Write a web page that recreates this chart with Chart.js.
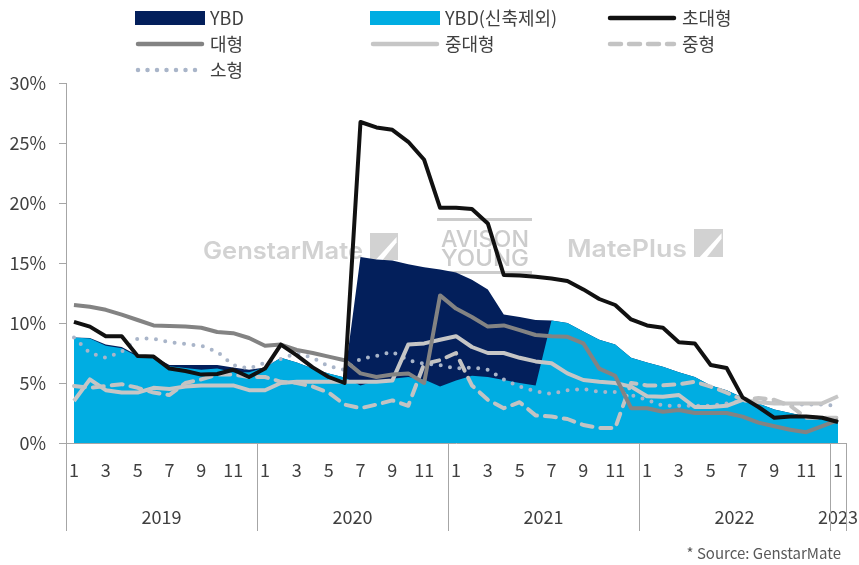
<!DOCTYPE html>
<html>
<head>
<meta charset="utf-8">
<script src="https://cdn.jsdelivr.net/npm/chart.js@4.4.0/dist/chart.umd.min.js"></script>
<style>
  html, body { margin: 0; padding: 0; background: #fff; }
  #wrap { position: relative; width: 859px; height: 565px; }
</style>
</head>
<body>
<div id="wrap"><canvas id="vacancyChart"></canvas></div>
<script>
// 월별 공실률 (%), 2019.1 ~ 2023.1
var months = ['1','2','3','4','5','6','7','8','9','10','11','12',
              '1','2','3','4','5','6','7','8','9','10','11','12',
              '1','2','3','4','5','6','7','8','9','10','11','12',
              '1','2','3','4','5','6','7','8','9','10','11','12',
              '1'];
var years = ['2019', '2020', '2021', '2022', '2023'];
var seriesNames = ['YBD', 'YBD(신축제외)', '초대형', '대형', '중대형', '중형', '소형'];

var ybd = [8.8, 8.75, 8.2, 8.0, 7.3, 7.2, 6.5, 6.5, 6.5, 6.5, 6.3, 6.1,
           6.3, 7.1, 6.7, 6.2, 5.8, 5.45, 15.5, 15.3, 15.2, 14.9, 14.65, 14.45,
           14.2, 13.6, 12.8, 10.7, 10.5, 10.25, 10.2, 10.0, 9.3, 8.6, 8.2, 7.1,
           6.7, 6.35, 5.9, 5.5, 4.8, 4.4, 3.8, 3.3, 2.8, 2.5, 2.2, 2.1,
           1.8];
var ybdExNew = [8.8, 8.7, 8.1, 7.9, 7.2, 7.1, 6.4, 6.25, 6.1, 6.2, 5.9, 5.9,
                6.3, 7.1, 6.7, 6.2, 5.8, 5.45, 4.8, 5.2, 5.35, 5.5, 5.3, 4.7,
                5.2, 5.6, 5.5, 5.25, 5.0, 4.8, 10.2, 10.0, 9.3, 8.6, 8.2, 7.1,
                6.7, 6.35, 5.9, 5.5, 4.8, 4.4, 3.8, 3.3, 2.8, 2.5, 2.2, 2.1,
                1.8];
var prime = [10.1, 9.7, 8.9, 8.9, 7.25, 7.2, 6.2, 6.0, 5.7, 5.75, 6.1, 5.5,
             6.2, 8.2, 7.3, 6.3, 5.5, 5.0, 26.75, 26.3, 26.1, 25.1, 23.6, 19.6,
             19.6, 19.5, 18.3, 14.0, 13.95, 13.85, 13.7, 13.5, 12.8, 12.0, 11.5, 10.3,
             9.8, 9.6, 8.4, 8.3, 6.5, 6.25, 3.8, 3.0, 2.1, 2.2, 2.2, 2.1,
             1.75];
var large = [11.5, 11.35, 11.1, 10.7, 10.25, 9.8, 9.75, 9.7, 9.6, 9.25, 9.15, 8.75,
             8.1, 8.2, 7.75, 7.5, 7.2, 6.9, 5.8, 5.5, 5.7, 5.8, 5.0, 12.3,
             11.2, 10.5, 9.7, 9.8, 9.4, 9.0, 8.9, 8.85, 8.3, 6.2, 5.6, 2.9,
             2.9, 2.6, 2.75, 2.5, 2.5, 2.5, 2.2, 1.7, 1.4, 1.1, 0.9, 1.4,
             1.9];
var midLarge = [3.5, 5.3, 4.4, 4.2, 4.2, 4.6, 4.5, 4.7, 4.8, 4.8, 4.8, 4.4,
                4.4, 5.0, 5.1, 5.1, 5.1, 5.1, 5.1, 5.1, 5.2, 8.2, 8.3, 8.6,
                8.9, 8.0, 7.5, 7.5, 7.1, 6.8, 6.65, 5.8, 5.25, 5.1, 5.0, 4.7,
                3.9, 3.85, 4.0, 3.0, 3.0, 3.1, 3.6, 3.4, 3.3, 3.3, 3.3, 3.3,
                3.9];
var mid = [4.75, 4.6, 4.75, 4.9, 4.6, 4.2, 4.0, 5.0, 5.3, 5.7, 5.7, 5.5,
           5.5, 5.1, 5.0, 4.7, 4.2, 3.2, 2.9, 3.2, 3.55, 3.1, 6.6, 6.9,
           7.5, 4.8, 3.6, 2.9, 3.4, 2.3, 2.2, 2.0, 1.5, 1.25, 1.25, 5.0,
           4.8, 4.8, 4.9, 5.1, 4.7, 4.2, 3.6, 3.75, 3.6, 3.1, 2.1, 2.1,
           2.1];
var small = [8.8, 7.5, 7.1, 7.6, 8.7, 8.7, 8.4, 8.25, 8.1, 7.6, 6.5, 6.2,
             6.7, 7.0, 7.5, 7.1, 6.4, 6.1, 7.0, 7.25, 7.6, 6.9, 6.6, 6.5,
             6.2, 6.3, 6.1, 5.3, 4.7, 4.3, 4.1, 4.4, 4.5, 4.25, 4.25, 4.0,
             3.6, 3.1, 3.1, 3.1, 3.1, 3.3, 3.5, 3.6, 3.4, 3.2, 3.2, 3.2,
             3.1];

var FONT = "'Noto Sans CJK KR', 'Noto Sans', sans-serif";
var TEXT = '#404040';
var AXIS = '#a6a6a6';

function areaSet(label, data, color, order) {
    return {
        label: label, data: data, order: order,
        backgroundColor: color, borderColor: color,
        borderWidth: 0, pointRadius: 0, fill: 'origin', tension: 0
    };
}

function lineSet(label, data, color, width, dash, cap, order) {
    return {
        label: label, data: data, order: order,
        borderColor: color, backgroundColor: color,
        borderWidth: width, borderDash: dash, borderCapStyle: cap,
        borderJoinStyle: 'round',
        pointRadius: 0, fill: false, tension: 0
    };
}

// 연도 라벨은 해당 연도 월들의 가운데에 둔다
var yearCenters = years.map(function (y, k) {
    var first = -1, last = -1, count = 0;
    for (var i = 0; i < months.length; i++) {
        if (months[i] === '1') count++;
        if (count === k + 1) { if (first < 0) first = i; last = i; }
    }
    return (first + last) / 2;
});

var legendPlugin = {
    id: 'customLegend',
    afterDraw: function (chart) {
        var ctx = chart.ctx;
        var colX = [135, 370, 607];
        var rowY = [18, 44, 70];
        ctx.save();
        seriesNames.forEach(function (name, k) {
            var ds = chart.data.datasets.find(function (d) { return d.label === name; });
            var x = colX[k % 3], y = rowY[Math.floor(k / 3)];
            if (ds.fill) {
                ctx.fillStyle = ds.backgroundColor;
                ctx.fillRect(x, y - 7, 70, 14);
            } else {
                ctx.strokeStyle = ds.borderColor;
                ctx.lineWidth = ds.borderWidth + 0.5;
                ctx.lineCap = 'round';
                ctx.setLineDash(ds.borderDash || []);
                ctx.beginPath();
                ctx.moveTo(x + 3, y);
                ctx.lineTo(x + 67, y);
                ctx.stroke();
                ctx.setLineDash([]);
            }
            ctx.fillStyle = TEXT;
            ctx.font = '18px ' + FONT;
            ctx.textBaseline = 'middle';
            ctx.textAlign = 'left';
            ctx.fillText(name, x + 75, y);
        });

        // 출처
        ctx.font = '15px ' + FONT;
        ctx.fillStyle = '#595959';
        ctx.textAlign = 'right';
        ctx.fillText('* Source: GenstarMate', 841, 553);
        ctx.restore();
    }
};

function fitText(ctx, text, x, base, width, font) {
    ctx.font = font;
    var w = ctx.measureText(text).width;
    ctx.save();
    ctx.translate(x, base);
    ctx.scale(width / w, 1);
    ctx.fillText(text, 0, 0);
    ctx.restore();
}

function logoBox(ctx, x, y, w, h) {
    ctx.fillStyle = '#d2d2d2';
    ctx.fillRect(x, y, w, h);
    ctx.fillStyle = '#ffffff';
    ctx.beginPath();
    ctx.moveTo(x + w * 0.2, y + h);
    ctx.lineTo(x + w * 0.95, y + h * 0.15);
    ctx.lineTo(x + w * 0.95, y + h * 0.35);
    ctx.lineTo(x + w * 0.45, y + h);
    ctx.closePath();
    ctx.fill();
}

var watermarkPlugin = {
    id: 'watermarks',
    beforeDatasetsDraw: function (chart) {
        var ctx = chart.ctx;
        ctx.save();
        ctx.fillStyle = '#d2d2d2';
        ctx.textBaseline = 'alphabetic';
        ctx.textAlign = 'left';
        fitText(ctx, 'GenstarMate', 203, 259, 160, '600 24px Inter');
        logoBox(ctx, 370, 233, 28, 27);

        ctx.fillStyle = '#cccccc';
        ctx.fillRect(437, 218, 95, 3);
        fitText(ctx, 'AVISON', 441, 247, 88, '500 23px Inter');
        fitText(ctx, 'YOUNG', 441, 266, 88, '500 23px Inter');
        ctx.fillRect(437, 271, 95, 3);

        ctx.fillStyle = '#d2d2d2';
        fitText(ctx, 'MatePlus', 567, 257, 120, '600 24px Inter');
        logoBox(ctx, 694, 229, 29, 28);
        ctx.restore();
    }
};

var separatorPlugin = {
    id: 'yearSeparators',
    afterDraw: function (chart) {
        var xs = chart.scales.x, ys = chart.scales.xYear;
        var half = (xs.getPixelForValue(1) - xs.getPixelForValue(0)) / 2;
        var ctx = chart.ctx;
        var marks = [];
        months.forEach(function (m, i) { if (m === '1') marks.push(xs.getPixelForValue(i) - half); });
        marks.push(chart.chartArea.right);
        ctx.save();
        ctx.strokeStyle = AXIS;
        ctx.lineWidth = 1;
        marks.forEach(function (px) {
            px = Math.round(px) + 0.5;
            ctx.beginPath();
            ctx.moveTo(px, chart.chartArea.bottom);
            ctx.lineTo(px, ys.bottom);
            ctx.stroke();
        });
        ctx.restore();
    }
};

function noSidePadding(scale) {
    scale.paddingLeft = 0;
    scale.paddingRight = 0;
}

var ctx = document.getElementById('vacancyChart').getContext('2d');
new Chart(ctx, {
    type: 'line',
    data: {
        labels: months,
        datasets: [
            areaSet(seriesNames[0], ybd, '#031f5b', 11),
            areaSet(seriesNames[1], ybdExNew, '#00ade2', 10),
            lineSet(seriesNames[2], prime, '#111111', 4, [], 'butt', 0),
            lineSet(seriesNames[3], large, '#838383', 4, [], 'butt', 1),
            lineSet(seriesNames[4], midLarge, '#c6c6c6', 4, [], 'butt', 3),
            lineSet(seriesNames[5], mid, '#c3c3c3', 4, [11, 8], 'round', 2),
            lineSet(seriesNames[6], small, '#a9b5c9', 4, [0, 9.5], 'round', 4)
        ]
    },
    options: {
        responsive: true,
        maintainAspectRatio: false,
        animation: false,
        layout: { padding: { top: 83, right: 13, bottom: 34, left: 0 } },
        plugins: {
            legend: { display: false },
            tooltip: { enabled: false }
        },
        scales: {
            x: {
                type: 'category',
                offset: true,
                weight: 0,
                grid: { display: false, drawTicks: false },
                border: { display: true, color: AXIS, width: 1 },
                ticks: {
                    autoSkip: false, maxRotation: 0, padding: 16,
                    color: TEXT, font: { family: FONT, size: 18 },
                    callback: function (val, idx) {
                        var m = months[idx];
                        return Number(m) % 2 === 1 ? m : '';
                    }
                },
                afterFit: function (scale) { scale.height = 50; noSidePadding(scale); }
            },
            xYear: {
                type: 'linear',
                position: 'bottom',
                weight: 1,
                min: -0.5,
                max: months.length - 0.5,
                grid: { display: false, drawTicks: false },
                border: { display: false },
                ticks: {
                    padding: 13, maxRotation: 0, color: TEXT,
                    font: { family: FONT, size: 18 },
                    callback: function (val) {
                        var k = yearCenters.indexOf(val);
                        return k >= 0 ? years[k] : '';
                    }
                },
                afterBuildTicks: function (scale) {
                    scale.ticks = yearCenters.map(function (v) { return { value: v }; });
                },
                afterFit: function (scale) { scale.height = 38; noSidePadding(scale); }
            },
            y: {
                min: 0,
                max: 30,
                grid: { drawOnChartArea: false, tickLength: 7, color: AXIS },
                border: { display: true, color: AXIS, width: 1 },
                ticks: {
                    stepSize: 5, padding: 13, color: TEXT,
                    font: { family: FONT, size: 18 },
                    callback: function (v) { return v + '%'; }
                },
                afterFit: function (scale) { scale.width = 66; }
            }
        }
    },
    plugins: [watermarkPlugin, separatorPlugin, legendPlugin]
});
</script>
</body>
</html>
